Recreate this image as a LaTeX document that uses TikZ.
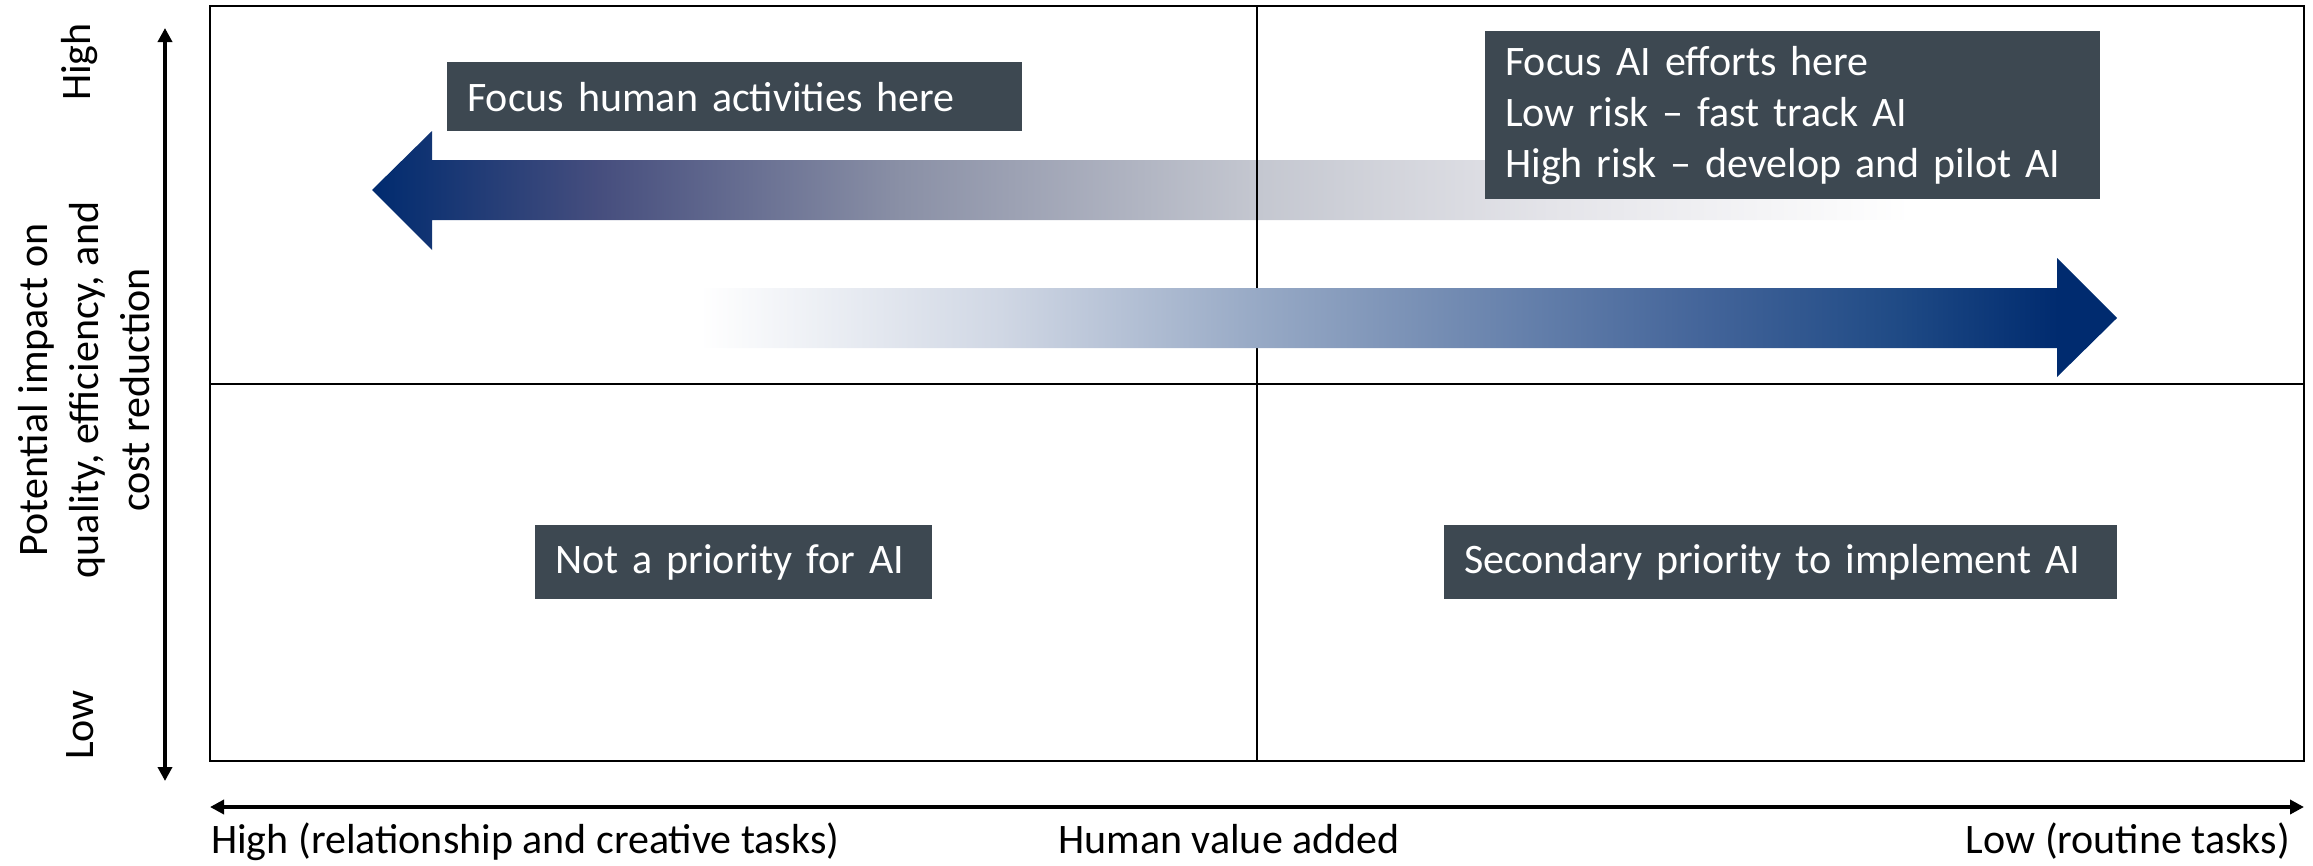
\documentclass[tikz,border=0pt]{standalone}
\usepackage{fontspec}
\setmainfont{Carlito}
\usepackage{xcolor}
\usetikzlibrary{
    positioning,
    arrows.meta,
    calc
}
\definecolor{deepnavy}{HTML}{002B6F}
\definecolor{boxgray}{HTML}{3D4851}
\definecolor{hfadeA}{RGB}{70,78,126}
\definecolor{hfadeB}{RGB}{138,144,166}
\definecolor{hfadeC}{RGB}{196,199,208}
\definecolor{hfadeD}{RGB}{228,228,233}
\definecolor{aifadeA}{RGB}{208,215,228}
\definecolor{aifadeB}{RGB}{151,169,197}
\definecolor{aifadeC}{RGB}{68,101,154}
\definecolor{aifadeD}{RGB}{31,74,133}
\pgfdeclarehorizontalshading{humanfade}{100bp}{color(0bp)=(deepnavy); color(25bp)=(deepnavy);
  color(32.4bp)=(hfadeA); color(42.2bp)=(hfadeB); color(53.8bp)=(hfadeC);
  color(63.3bp)=(hfadeD); color(75bp)=(white); color(100bp)=(white)}
\pgfdeclarehorizontalshading{aifade}{100bp}{color(0bp)=(white); color(25bp)=(white);
  color(35.6bp)=(aifadeA); color(44.7bp)=(aifadeB); color(60.3bp)=(aifadeC);
  color(67.3bp)=(aifadeD); color(72.9bp)=(deepnavy); color(100bp)=(deepnavy)}
\newcommand{\lblfont}{\fontsize{42}{51}\selectfont}
\tikzset{
  qbox/.style = {
      fill=boxgray,
      text=white,
      font=\lblfont,
      inner xsep=20pt,
      inner ysep=8pt,
      align=left,
      anchor=north west
  },
  axislabel/.style = {
      font=\lblfont,
      inner sep=0pt
  },
  frame/.style = {
      draw,
      line width=2.5pt
  },
  midline/.style = {
      draw,
      line width=2pt
  },
  axisline/.style = {
      line width=4pt,
      {Triangle[length=14pt,width=14pt]}-{Triangle[length=14pt,width=14pt]}
  }
}
\begin{document}
\begin{tikzpicture}[x=1pt, y=-1pt]
    \useasboundingbox (0,0) rectangle (2313,865);
    % Coordinates
    \coordinate (nw) at (210,6);
    \coordinate (se) at (2304,761);
    \coordinate (midtop) at (1257,6);
    \coordinate (midbot) at (1257,761);
    \coordinate (midleft) at (210,384);
    \coordinate (midright) at (2304,384);
    \coordinate (ytop) at (165,28);
    \coordinate (ybot) at (165,781);
    \coordinate (xleft) at (210,807);
    \coordinate (xright) at (2304,807);
    % Human arrow
    \shade[shading=humanfade]
    (372,190) -- (432,131) -- (432,160) -- (1910,160) -- (1910,220)
    -- (432,220) -- (432,250) -- cycle;
    % Quadrants
    \path[frame] (nw) rectangle (se);
    \path[midline] (midtop) -- (midbot);
    \path[midline] (midleft) -- (midright);
    % AI arrow
    \shade[shading=aifade]
    (700,288) -- (2057,288) -- (2057,258) -- (2117,318) -- (2057,377)
    -- (2057,348) -- (700,348) -- cycle;
    % Boxes
    \node[qbox, text width=535pt, minimum height=69pt] (human) at (447,62)
        {Focus human activities here};
    \node[qbox, text width=575pt, minimum height=168pt] (focusai) at (1485,31)
        {Focus AI efforts here\\Low risk – fast track AI\\High risk – develop and pilot AI};
    \node[qbox, text width=357pt, minimum height=74pt] (nopriority) at (535,525)
        {Not a priority for AI};
    \node[qbox, text width=633pt, minimum height=74pt] (secondary) at (1444,525)
        {Secondary priority to implement AI};
    % Axes
    \draw[axisline] (ytop) -- (ybot);
    \draw[axisline] (xleft) -- (xright);
    \node[axislabel, rotate=90] (yhigh) at (80,62) {High};
    \node[axislabel, rotate=90] (ylow) at (80,725) {Low};
    \node[axislabel, rotate=90, align=center] (ytitle) at (84,390)
        {Potential impact on\\quality, efficiency, and\\cost reduction};
    \node[axislabel, anchor=base west] (xhigh) at (211,853)
        {High (relationship and creative tasks)};
    \node[axislabel, anchor=base] (xtitle) at (1229,853) {Human value added};
    \node[axislabel, anchor=base east] (xlow) at (2290,853) {Low (routine tasks)};
\end{tikzpicture}
\end{document}
